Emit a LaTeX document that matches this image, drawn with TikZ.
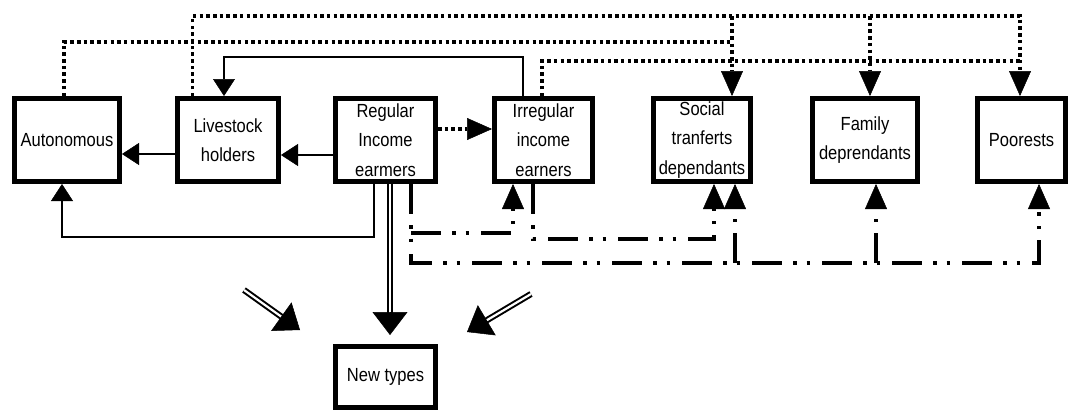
\documentclass[tikz,border=0pt]{standalone}
\usepackage{fontspec}
\setmainfont{Liberation Sans}[FakeStretch=0.87]
\usetikzlibrary{arrows.meta,calc}
\newcommand\bxfont{\fontsize{19pt}{29.5pt}\selectfont}
\begin{document}
\begin{tikzpicture}[x=1pt,y=-1pt,
  box/.style={draw, line width=5pt, inner sep=0pt, minimum height=83pt, align=center, font=\bxfont},
  thinarr/.style={line width=1.3pt, -{Triangle[length=17pt,width=22pt,line width=0.5pt]}},
  dots/.style={line width=3.5pt, dash pattern=on 3.5pt off 3.2pt},
  dotarr/.style={dots, -{Triangle[length=25pt,width=22pt,line width=0.5pt]}},
  dd/.style={line width=3.5pt, dash pattern=on 30pt off 11pt on 3.5pt off 10pt on 3.5pt off 12pt},
  ddarr/.style={dd, -{Triangle[length=25pt,width=22pt,line width=0.5pt]}},
  dshaft/.style={line width=2pt, double distance=2.2pt},
  bighead/.style={line width=0.5pt, -{Triangle[length=23pt,width=35pt,line width=0.5pt]}},
]
\useasboundingbox (0,0) rectangle (1070,410);

% boxes
\node[box, minimum width=105pt] (aut) at (67,140) {Autonomous};
\node[box, minimum width=101pt] (live) at (228,140) {Livestock\\holders};
\node[box, minimum width=100pt] (reg) at (385.5,140) {Regular\\Income\\earmers};
\node[box, minimum width=98pt] (irr) at (543.5,140) {Irregular\\income\\earners};
\node[box, minimum width=97pt] (soc) at (702,140) {Social\\tranferts\\dependants};
\node[box, minimum width=105pt] (fam) at (865,140) {Family\\deprendants};
\node[box, minimum width=88pt] (poor) at (1021.5,140) {Poorests};
\node[box, minimum width=100pt, minimum height=61pt] (new) at (385.5,377) {New types};

% solid thin connectors
\draw[thinarr] ([yshift=-14pt]live.west) -- ([yshift=-14pt]aut.east);
\draw[thinarr] ([yshift=-15pt]reg.west) -- ([yshift=-15pt]live.east);
\draw[thinarr] ([xshift=-20.5pt]irr.north) |- ([xshift=-4pt,yshift=39pt]live.north) -- ([xshift=-4pt]live.north);
\draw[thinarr] ([xshift=-11.5pt]reg.south) |- ([xshift=-5pt,yshift=-53pt]aut.south) -- ([xshift=-5pt]aut.south);

% dotted connectors
\draw[dotarr] ([yshift=11pt]reg.east) -- ([yshift=11pt]irr.west);
\draw[dotarr] ([xshift=-3pt]aut.north) |- ([xshift=30pt,yshift=54pt]soc.north) -- ([xshift=30pt]soc.north);
\draw[dotarr] ([xshift=-35.5pt]live.north) |- ([xshift=-1.5pt,yshift=80pt]poor.north) -- ([xshift=-1.5pt]poor.north);
\draw[dots] ([xshift=30pt,yshift=80pt]soc.north) -- ([xshift=30pt,yshift=54pt]soc.north);
\draw[dotarr] ([xshift=5pt,yshift=80pt]fam.north) -- ([xshift=5pt]fam.north);
\draw[dots] ([xshift=-1.5pt]irr.north) |- ([xshift=-1.5pt,yshift=35pt]poor.north);

% dash-dot connectors
\draw[ddarr] ([xshift=25.5pt]reg.south) |- ([xshift=17.5pt,yshift=-79pt]poor.south) -- ([xshift=17.5pt]poor.south);
\draw[ddarr] ([xshift=25.5pt,yshift=-49pt]reg.south) -| ([xshift=-30.5pt]irr.south);
\draw[ddarr] ([xshift=-10.5pt]irr.south) |- ([xshift=12pt,yshift=-55pt]soc.south) -- ([xshift=12pt]soc.south);
\draw[ddarr] ([xshift=33pt,yshift=-79pt]soc.south) -- ([xshift=33pt]soc.south);
\draw[ddarr] ([xshift=11pt,yshift=-79pt]fam.south) -- ([xshift=11pt]fam.south);

% double arrows
\coordinate (rs) at ([xshift=4.5pt]reg.south);
\coordinate (nt) at ([xshift=4.5pt,yshift=9pt]new.north);
\draw[dshaft] (rs) -- ($(nt)!21pt!(rs)$);
\draw[bighead] ($(nt)!23pt!(rs)$) -- (nt);

\coordinate (la1) at (244,290);
\coordinate (la2) at (300,330);
\draw[dshaft] (la1) -- ($(la2)!20pt!(la1)$);
\draw[bighead] ($(la2)!22pt!(la1)$) -- (la2);

\coordinate (ra1) at (531,294);
\coordinate (ra2) at (467,332);
\draw[dshaft] (ra1) -- ($(ra2)!19pt!(ra1)$);
\draw[bighead] ($(ra2)!21pt!(ra1)$) -- (ra2);
\end{tikzpicture}
\end{document}
